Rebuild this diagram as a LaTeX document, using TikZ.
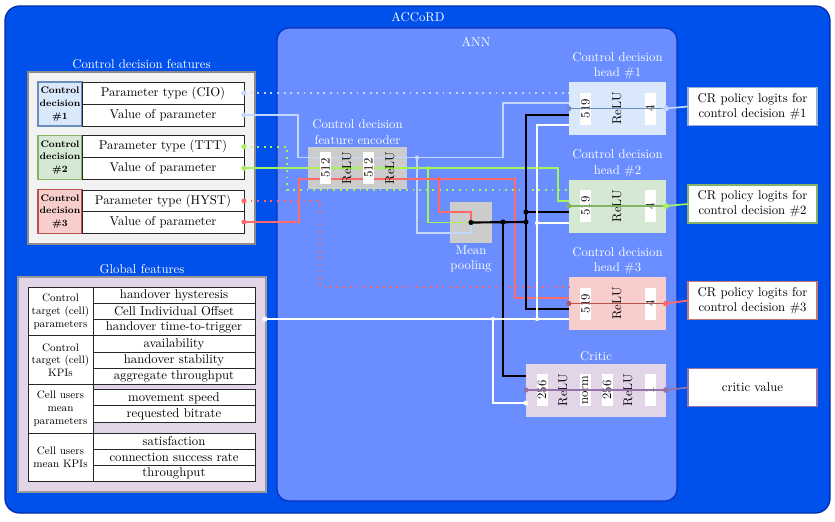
\documentclass[tikz,border=0pt]{standalone}
\usetikzlibrary{positioning}

\definecolor{accordblue}{RGB}{0,80,236}
\definecolor{accordedge}{RGB}{0,45,170}
\definecolor{annblue}{RGB}{106,142,255}
\definecolor{annedge}{RGB}{10,50,190}
\definecolor{panelgray}{RGB}{242,242,242}
\definecolor{encgray}{RGB}{204,204,204}
\definecolor{cdblue}{RGB}{218,232,252}
\definecolor{cdblueedge}{RGB}{108,142,191}
\definecolor{cdgreen}{RGB}{213,232,212}
\definecolor{cdgreenedge}{RGB}{130,179,102}
\definecolor{cdred}{RGB}{248,206,204}
\definecolor{cdrededge}{RGB}{184,84,80}
\definecolor{criticfill}{RGB}{225,213,231}
\definecolor{criticedge}{RGB}{150,115,166}
\definecolor{wireblue}{RGB}{194,214,255}
\definecolor{wiregreen}{RGB}{166,242,90}
\definecolor{wirered}{RGB}{255,105,105}

\newcommand{\pxu}{0.0276cm}

\tikzset{
  sized/.style 2 args={minimum width=#1*\pxu, minimum height=#2*\pxu, inner sep=0pt, outer sep=0pt},
  tagcell/.style={sized={44}{44}, line width=0.8pt, align=center,
    font=\fontsize{7.5}{10}\selectfont\bfseries},
  paramcell/.style={sized={162}{22}, draw=black!85, fill=white, line width=0.7pt},
  groupcell/.style={sized={65}{48.5}, draw=black!85, fill=white, line width=0.7pt,
    align=center, font=\fontsize{8.5}{10}\selectfont},
  featcell/.style={sized={162}{16.2}, draw=black!85, fill=white, line width=0.7pt},
  layerbox/.style={sized={97}{53}},
  slot/.style={rotate=90, fill=white, minimum width=32*\pxu, minimum height=11*\pxu, inner sep=0pt},
  slottext/.style={rotate=90, inner sep=0pt},
  lbl/.style={text=white, align=center, inner sep=1pt},
  outbox/.style={sized={129}{38}, fill=white, line width=0.8pt, align=center},
  wire/.style={line width=1.3pt},
  dotwire/.style={line width=1.4pt, dash pattern=on 1.4pt off 3.8pt},
  busline/.style={line width=1.7pt, black},
}

\begin{document}
\begin{tikzpicture}[x=0.0276cm,y=-0.0276cm]
  \useasboundingbox (0,0) rectangle (835,521);

  % containers
  \node[sized={825}{507}, fill=accordblue, draw=accordedge, line width=1pt, rounded corners=0.4cm] (accord) at (417.5,259.5) {};
  \node[lbl] (accord-t) at (418,17) {ACCoRD};
  \node[sized={400}{473}, fill=annblue, draw=annedge, line width=1pt, rounded corners=0.33cm] (ann) at (477,264.5) {};
  \node[lbl] (ann-t) at (476,42) {ANN};

  % control decision features
  \node[sized={227}{172}, fill=panelgray, draw=black!45, line width=0.8pt] (cdf) at (141.5,158) {};
  \node[lbl, above=1pt of cdf] (cdf-t) {Control decision features};

  \node[tagcell, fill=cdblue, draw=cdblueedge] (tag1) at (60,104) {Control\\decision\\\#1};
  \node[paramcell] (type1) at (163,93) {Parameter type (CIO)};
  \node[paramcell] (val1) at (163,115) {Value of parameter};

  \node[tagcell, fill=cdgreen, draw=cdgreenedge] (tag2) at (60,157.5) {Control\\decision\\\#2};
  \node[paramcell] (type2) at (163,146.75) {Parameter type (TTT)};
  \node[paramcell] (val2) at (163,168.25) {Value of parameter};

  \node[tagcell, fill=cdred, draw=cdrededge] (tag3) at (60,211.5) {Control\\decision\\\#3};
  \node[paramcell] (type3) at (163,201) {Parameter type (HYST)};
  \node[paramcell] (val3) at (163,222) {Value of parameter};

  % global features
  \node[sized={248}{215}, fill=criticfill, draw=black!40, line width=0.8pt] (gf) at (142,384.5) {};
  \node[lbl, above=1pt of gf] (gf-t) {Global features};

  \node[groupcell] (grp1) at (60.5,311.5) {Control\\target (cell)\\parameters};
  \node[featcell] (feat1) at (174,295.3) {handover hysteresis};
  \node[featcell] (feat2) at (174,311.6) {Cell Individual Offset};
  \node[featcell] (feat3) at (174,327.8) {handover time-to-trigger};

  \node[groupcell] (grp2) at (60.5,360) {Control\\target (cell)\\KPIs};
  \node[featcell] (feat4) at (174,344) {availability};
  \node[featcell] (feat5) at (174,360.2) {handover stability};
  \node[featcell] (feat6) at (174,376.3) {aggregate throughput};

  \node[groupcell, minimum height=49*\pxu] (grp3) at (60.5,408.8) {Cell users\\mean\\parameters};
  \node[featcell] (feat7) at (174,398) {movement speed};
  \node[featcell] (feat8) at (174,414) {requested bitrate};

  \node[groupcell] (grp4) at (60.5,457.5) {Cell users\\mean KPIs};
  \node[featcell] (feat9) at (174,441.3) {satisfaction};
  \node[featcell] (feat10) at (174,457.5) {connection success rate};
  \node[featcell] (feat11) at (174,473.7) {throughput};

  % ann blocks
  \node[sized={99}{42}, fill=encgray] (enc) at (357.5,168) {};
  \node[lbl, above=1pt of enc] (enc-t) {Control decision\\feature encoder};
  \node[sized={42}{41}, fill=encgray] (pool) at (471,222.5) {};
  \node[lbl, below=1pt of pool] (pool-t) {Mean\\pooling};

  \node[layerbox, fill=cdblue] (head1) at (617.5,108.5) {};
  \node[lbl, above=1pt of head1] (head1-t) {Control decision\\head \#1};
  \node[layerbox, fill=cdgreen] (head2) at (617.5,206) {};
  \node[lbl, above=1pt of head2] (head2-t) {Control decision\\head \#2};
  \node[layerbox, fill=cdred] (head3) at (617.5,303.5) {};
  \node[lbl, above=1pt of head3] (head3-t) {Control decision\\head \#3};
  \node[sized={140}{53}, fill=criticfill] (critic) at (596,390) {};
  \node[lbl, above=1pt of critic] (critic-t) {Critic};

  % outputs
  \node[outbox, draw=cdblueedge!70] (cr1) at (752.5,106.5) {CR policy logits for\\control decision \#1};
  \node[outbox, draw=cdgreenedge] (cr2) at (752.5,204) {CR policy logits for\\control decision \#2};
  \node[outbox, draw=cdrededge!80] (cr3) at (752.5,300.5) {CR policy logits for\\control decision \#3};
  \node[outbox, draw=criticedge] (crval) at (752.5,387.5) {critic value};

  % parameter types go straight to the heads
  \coordinate (gd) at (287,190);
  \coordinate (rd) at (320,287);
  \draw[dotwire, wireblue] (type1.east) -- (type1.east -| head1.west);
  \draw[dotwire, wiregreen] (type2.east) -| (gd) -- (gd -| head2.west);
  \draw[dotwire, wirered] (type3.east) -| (rd) -- (rd -| head3.west);

  % parameter values through the encoder
  \coordinate (bw1) at (298,157.5);
  \coordinate (bw2) at (503,103);
  \coordinate (bwj) at (417,157.5);
  \coordinate (bwp) at (417,233);
  \draw[wire, wireblue] (val1.east) -| (bw1) -- (bw2 |- bw1) -- (bw2) -- (bw2 -| head1.west);
  \draw[wire, wireblue] (bwj) -- (bwp) -| (pool.center);

  \coordinate (gw1) at (558,201);
  \coordinate (gwj) at (428,168.25);
  \draw[wire, wiregreen] (val2.east) -- (val2.east -| gw1) -- (gw1) -- (gw1 -| head2.west);
  \draw[wire, wiregreen] (gwj) |- (pool.center);

  \coordinate (rw1) at (299,179);
  \coordinate (rw2) at (515,298);
  \coordinate (rwj) at (439,179);
  \coordinate (rwp) at (439,212);
  \draw[wire, wirered] (val3.east) -| (rw1) -- (rw2 |- rw1) -- (rw2) -- (rw2 -| head3.west);
  \draw[wire, wirered] (rwj) -- (rwp) -| (pool.center);

  \node[slot] (enc-a) at (325.5,168) {512};
  \node[slottext] (enc-b) at (347,168) {ReLU};
  \node[slot] (enc-c) at (368.5,168) {512};
  \node[slottext] (enc-d) at (390,168) {ReLU};

  % pooled features
  \coordinate (kj) at (503,222);
  \coordinate (kv) at (526,222);
  \coordinate (kt) at (526,115);
  \coordinate (km) at (526,212);
  \coordinate (kb) at (526,309);
  \coordinate (kc) at (503,376);
  \draw[busline] (pool.center) -- (kv);
  \draw[busline] (kt -| head1.west) -- (kt) -- (kb) -- (kb -| head3.west);
  \draw[busline] (km) -- (km -| head2.west);
  \draw[busline] (kj) -- (kc) -- (kc -| critic.west);

  % global features
  \coordinate (wout) at (265,319);
  \coordinate (wj1) at (493,319);
  \coordinate (wj2) at (537,319);
  \coordinate (wt) at (537,125);
  \coordinate (wm) at (537,223);
  \coordinate (wc) at (493,403);
  \draw[wire, white, line width=1.2pt] (wout) -- (wout -| head3.west);
  \draw[wire, white, line width=1.2pt] (wj2) -- (wt) -- (wt -| head1.west);
  \draw[wire, white, line width=1.2pt] (wm) -- (wm -| head2.west);
  \draw[wire, white, line width=1.2pt] (wj1) -- (wc) -- (wc -| critic.west);

  % joints
  \fill[wireblue] (type1.east) circle (2pt) (val1.east) circle (2pt) (bwj) circle (1.6pt);
  \fill[wiregreen] (type2.east) circle (2pt) (val2.east) circle (2pt) (gwj) circle (1.6pt);
  \fill[wirered] (type3.east) circle (2pt) (val3.east) circle (2pt) (rwj) circle (1.6pt);
  \fill[black] (pool.center) circle (2pt) (kj) circle (2pt) (kv) circle (2pt) (km) circle (2pt);
  \fill[white] (wout) circle (2pt) (wj1) circle (1.6pt) (wj2) circle (1.6pt) (wm) circle (1.6pt) (wc -| critic.west) circle (2pt);

  % heads
  \node[slot] (head1-a) at (585.5,108.5) {519};
  \node[slottext] (head1-b) at (617,108.5) {ReLU};
  \node[slot] (head1-c) at (650,108.5) {4};
  \node[slot] (head2-a) at (585.5,206) {519};
  \node[slottext] (head2-b) at (617,206) {ReLU};
  \node[slot] (head2-c) at (650,206) {4};
  \node[slot] (head3-a) at (585.5,303.5) {519};
  \node[slottext] (head3-b) at (617,303.5) {ReLU};
  \node[slot] (head3-c) at (650,303.5) {4};

  \node[slot] (critic-a) at (542,390) {256};
  \node[slottext] (critic-b) at (563,390) {ReLU};
  \node[slot] (critic-c) at (585,390) {norm};
  \node[slot] (critic-d) at (607,390) {256};
  \node[slottext] (critic-e) at (628,390) {ReLU};
  \node[slot] (critic-f) at (650,390) {1};

  \draw[wire, cdblueedge] (head1.west) -- (head1.east);
  \draw[wire, wireblue] (head1.east) -- (cr1.west);
  \fill[cdblueedge] (head1.west) circle (2pt);
  \fill[wireblue] (head1.east) circle (2.3pt);

  \draw[wire, cdgreenedge] (head2.west) -- (head2.east);
  \draw[wire, wiregreen] (head2.east) -- (cr2.west);
  \fill[cdgreenedge] (head2.west) circle (2pt);
  \fill[wiregreen] (head2.east) circle (2.3pt);

  \draw[wire, cdrededge] (head3.west) -- (head3.east);
  \draw[wire, wirered] (head3.east) -- (cr3.west);
  \fill[cdrededge] (head3.west) circle (2pt);
  \fill[wirered] (head3.east) circle (2.3pt);

  \draw[wire, criticedge] (critic.west) -- (critic.east) -- (crval.west);
  \fill[criticedge] (critic.west) circle (2pt) (critic.east) circle (2.3pt);
\end{tikzpicture}
\end{document}
